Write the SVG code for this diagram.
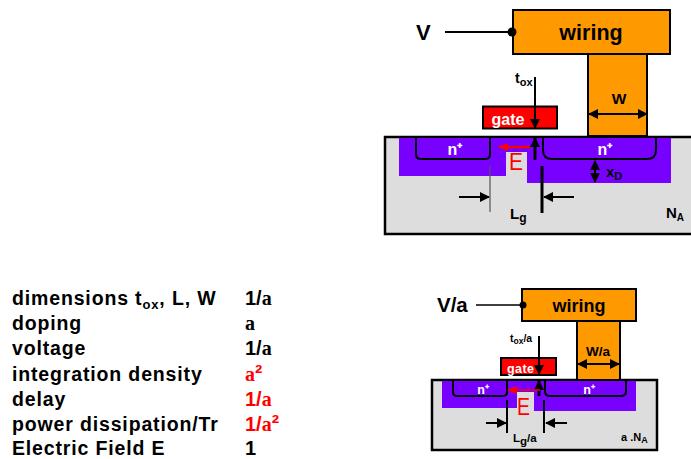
<svg xmlns="http://www.w3.org/2000/svg" width="691" height="459" viewBox="0 0 691 459">
<defs>
<marker id="ah" markerUnits="userSpaceOnUse" markerWidth="10" markerHeight="10" refX="9" refY="5" orient="auto"><path d="M0 0L10 5L0 10Z" fill="#000"/></marker>
<marker id="ahs" markerUnits="userSpaceOnUse" markerWidth="10" markerHeight="10" refX="9" refY="5" orient="auto-start-reverse"><path d="M0 0L10 5L0 10Z" fill="#000"/></marker>
<marker id="ar" markerUnits="userSpaceOnUse" markerWidth="10" markerHeight="10" refX="9" refY="5" orient="auto"><path d="M0 1L10 5L0 9Z" fill="#f00"/></marker>
</defs>
<style>
text{font-family:"Liberation Sans",Arial,sans-serif;font-weight:700;fill:#000}
.s{font-family:"Liberation Serif","Times New Roman",serif}
.n{font-family:"Liberation Sans",Arial,sans-serif;font-size:22px}
.r{fill:#f00}
.w{fill:#fff}
.e{font-weight:400}
.sub{fill:#ddd;stroke:#000;stroke-width:2.500}
.metal{fill:#f90;stroke:#000;stroke-width:2}
.gate{fill:#f00;stroke:#000;stroke-width:2}
.p{fill:#70f}
.well{fill:none;stroke:#000;stroke-width:2}
.l{fill:none;stroke:#000;stroke-width:2}
.th{fill:none;stroke:#000;stroke-width:3}
.gr{fill:none;stroke:#555;stroke-width:1.200}
.t{font-size:19.500px;letter-spacing:.85px}
.v{font-size:20px}
</style>
<g id="device-large">
<g id="substrate-1"><rect class="sub" x="385" y="137" width="308" height="97"/></g>
<g id="depletion-1"><path class="p" d="M399 138H671V183H527V152H506V176H399Z"/></g>
<g id="wiring-1"><rect class="metal" x="588" y="54" width="59" height="82"/><rect class="metal" x="513" y="10" width="157" height="44"/><text x="591" y="40" font-size="21.500" text-anchor="middle">wiring</text><text x="619" y="104" font-size="15.500" text-anchor="middle">W</text></g>
<g id="gate-1"><rect class="gate" x="483" y="106.500" width="74" height="22"/><text class="w" x="508" y="125" font-size="16" text-anchor="middle">gate</text></g>
<g id="n-left-1"><path class="well" d="M416 136V154Q416 159 421 159H485Q490 159 490 154V136"/><text class="w" x="455" y="155" font-size="16" text-anchor="middle">n⁺</text></g>
<g id="n-right-1"><path class="well" d="M543 136V150Q543 159 552 159H647Q656 159 656 150V136"/><text class="w" x="605" y="155" font-size="16" text-anchor="middle">n⁺</text></g>
<g id="labels-1">
<text x="416" y="40" font-size="22">V</text>
<text x="515" y="83" font-size="14">t<tspan font-size="11" dy="3">ox</tspan></text>
<text class="r e" x="509" y="170" font-size="23" textLength="14" lengthAdjust="spacingAndGlyphs">E</text>
<text x="606" y="177" font-size="15">x<tspan font-size="11" dy="3">D</tspan></text>
<text x="510" y="219" font-size="15">L<tspan font-size="12" dy="3">g</tspan></text>
<text x="666" y="218" font-size="15">N<tspan font-size="10" dy="3">A</tspan></text>
</g>
</g>
<g id="connectors-1">
<path class="l" d="M445 32H511"/><circle cx="512" cy="32" r="4.500"/>
<path class="l" d="M535 77V128" marker-end="url(#ah)"/>
<path class="th" d="M535 160V138" marker-end="url(#ah)"/>
<path class="l" d="M589 114H647" marker-start="url(#ahs)" marker-end="url(#ah)"/>
<path class="l" d="M595 161V182" marker-start="url(#ahs)" marker-end="url(#ah)"/>
<path d="M530 147H499" stroke="#f00" stroke-width="2.500" fill="none" marker-end="url(#ar)"/>
<path class="gr" d="M490 166V212"/>
<path class="th" d="M542 166V213"/>
<path class="l" d="M459 197H489" marker-end="url(#ah)"/>
<path class="l" d="M574 197H544" marker-end="url(#ah)"/>
</g>
<g id="device-small">
<g id="substrate-2"><rect class="sub" x="432" y="380" width="225" height="70"/></g>
<g id="depletion-2"><path class="p" d="M442 381H636V411H534V392H517V408H442Z"/></g>
<g id="wiring-2"><rect class="metal" x="577" y="321" width="43" height="59"/><rect class="metal" x="522" y="289" width="114" height="32"/><text x="579" y="312" font-size="18" text-anchor="middle">wiring</text><text x="598" y="356" font-size="13.500" text-anchor="middle">W/a</text></g>
<g id="gate-2"><rect class="gate" x="501" y="358" width="55" height="17"/><text class="w" x="507" y="373" font-size="12.500" textLength="27">gate</text></g>
<g id="n-left-2"><path class="well" d="M453 380V392Q453 396 457 396H503Q507 396 507 392V380"/><text class="w" x="483" y="394" font-size="12.500" text-anchor="middle">n⁺</text></g>
<g id="n-right-2"><path class="well" d="M545 380V391Q545 396 550 396H621Q626 396 626 391V380"/><text class="w" x="589" y="394" font-size="12.500" text-anchor="middle">n⁺</text></g>
<g id="labels-2">
<text x="437" y="312" font-size="20.500">V/a</text>
<text x="510" y="342" font-size="10.500">t<tspan font-size="8.500" dy="2">ox</tspan><tspan dy="-2">/a</tspan></text>
<text class="r e" x="517" y="415" font-size="23" textLength="13" lengthAdjust="spacingAndGlyphs">E</text>
<text x="513" y="442" font-size="11.500">L<tspan dy="3">g</tspan><tspan dy="-3">/a</tspan></text>
<text x="621" y="441" font-size="11">a .N<tspan font-size="9" dy="2">A</tspan></text>
</g>
</g>
<g id="connectors-2">
<path d="M476 305H522" fill="none" stroke="#000" stroke-width="1.500"/><circle cx="523" cy="305" r="3.500"/>
<path class="l" d="M539 336V374" marker-end="url(#ah)"/>
<path class="th" d="M539 396V381" marker-end="url(#ah)"/>
<path class="l" d="M578 364H619" marker-start="url(#ahs)" marker-end="url(#ah)"/>
<path d="M540 390H508" stroke="#f00" stroke-width="1.500" fill="none" marker-end="url(#ar)"/>
<path class="l" d="M507 400V433"/>
<path class="l" d="M544 400V433"/>
<path class="l" d="M486 423H506" marker-end="url(#ah)"/>
<path class="l" d="M567 423H546" marker-end="url(#ah)"/>
</g>
<g id="table">
<text class="t" x="12" y="305">dimensions t<tspan font-size="13" dy="4">ox</tspan><tspan dy="-4">, L, W</tspan></text>
<text class="t" x="12" y="330">doping</text>
<text class="t" x="12" y="355">voltage</text>
<text class="t" x="12" y="381">integration density</text>
<text class="t" x="12" y="406">delay</text>
<text class="t" x="12" y="431">power dissipation/Tr</text>
<text class="t" x="12" y="454.500">Electric Field E</text>
<text class="v" x="245" y="305">1/<tspan class="s">a</tspan></text>
<text class="v s" x="245" y="330">a</text>
<text class="v" x="245" y="355">1/<tspan class="s">a</tspan></text>
<text class="v r s" x="245" y="381">a<tspan class="n r">²</tspan></text>
<text class="v r" x="245" y="406">1/<tspan class="s r">a</tspan></text>
<text class="v r" x="245" y="431">1/<tspan class="s r">a</tspan><tspan class="n r">²</tspan></text>
<text class="v" x="245" y="454.500">1</text>
</g>
</svg>
